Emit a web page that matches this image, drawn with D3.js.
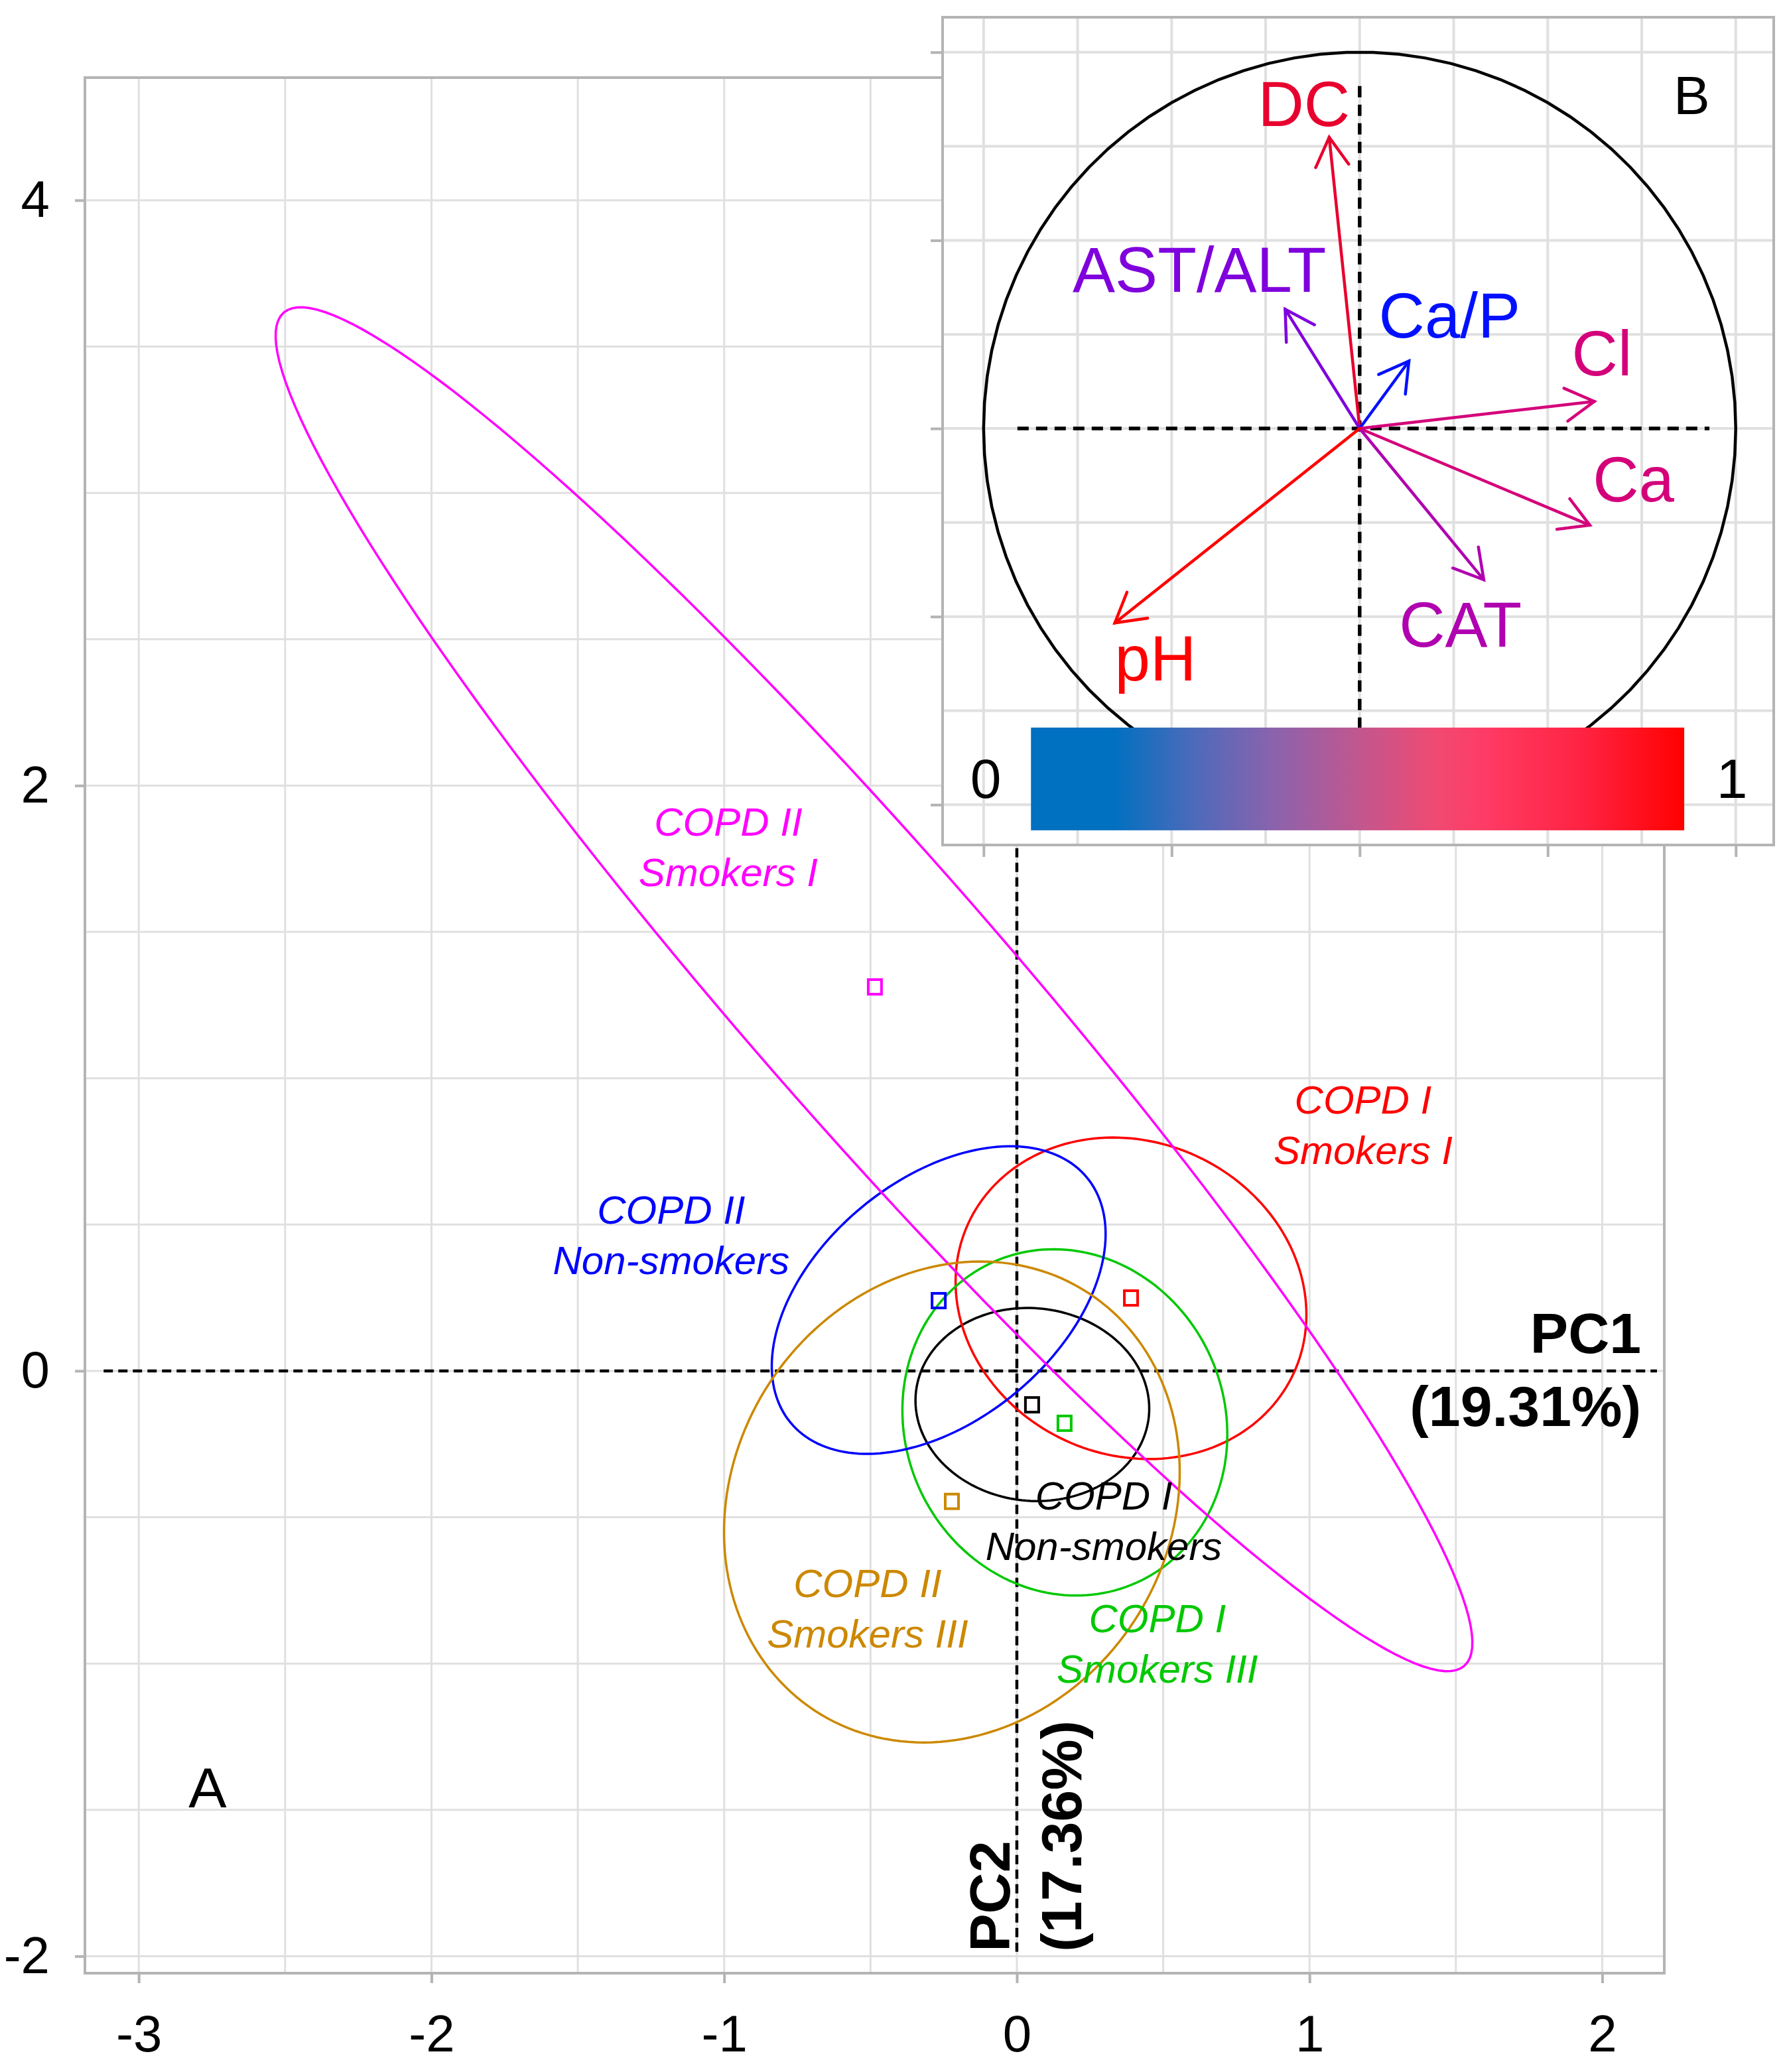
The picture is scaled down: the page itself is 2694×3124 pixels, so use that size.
<!DOCTYPE html>
<html><head><meta charset="utf-8">
<script src="https://cdn.jsdelivr.net/npm/d3@7"></script>
<style>body{margin:0;background:#fff}svg{display:block}text{font-family:"Liberation Sans",Arial,sans-serif}</style>
</head><body><svg id="c" width="2694" height="3124"></svg>
<script>
// ---------- DATA ----------
// Panel A: PCA scores (group means) and 95% confidence ellipses
const groupLine1 = ["COPD I", "COPD I", "COPD I", "COPD II", "COPD II", "COPD II"];
const groupLine2 = ["Non-smokers", "Smokers I", "Smokers III", "Non-smokers", "Smokers I", "Smokers III"];
const groupColors = ["#000000", "#ff0000", "#00c800", "#0000ff", "#ff00ff", "#cc8800"];
const meanPC1 = [0.052, 0.390, 0.163, -0.267, -0.485, -0.222];
const meanPC2 = [-0.116, 0.249, -0.179, 0.240, 1.312, -0.446];
const ellCx = [0.053, 0.390, 0.164, -0.267, -0.488, -0.222];
const ellCy = [-0.115, 0.248, -0.176, 0.242, 1.304, -0.448];
const ellA = [0.400, 0.612, 0.600, 0.657, 3.068, 0.853];
const ellB = [0.329, 0.535, 0.546, 0.412, 0.444, 0.744];
const ellAngle = [-6.1, -24.7, -66.3, 39.6, -48.9, 56.7];
// group label anchors (data units: centre x, first baseline y)
const labelX = [0.297, 1.183, 0.480, -1.181, -0.986, -0.510];
const labelY = [-0.474, 0.879, -0.893, 0.503, 1.829, -0.773];

const xTickVals = [-3, -2, -1, 0, 1, 2];
const yTickVals = [-2, 0, 2, 4];
const pc1Label = ["PC1", "(19.31%)"];
const pc2Label = ["PC2", "(17.36%)"];

// Panel B: variable loadings (correlation circle)
const varNames = ["DC", "AST/ALT", "Ca/P", "Cl", "Ca", "CAT", "pH"];
const loadPC1 = [-0.081, -0.198, 0.131, 0.624, 0.612, 0.330, -0.651];
const loadPC2 = [0.774, 0.317, 0.179, 0.072, -0.257, -0.402, -0.517];
const varColors = ["#e8002e", "#7f00dd", "#0010ff", "#d4007a", "#d4007a", "#b000b0", "#ff0000"];
const varLabelX = [-0.148, -0.426, 0.239, 0.644, 0.728, 0.268, -0.543];
const varLabelY = [0.804, 0.363, 0.241, 0.141, -0.194, -0.580, -0.670];
const colorbarStops = [0, 0.125, 0.25, 0.37, 0.5, 0.62, 0.7, 0.85, 1];
const colorbarColors = ["#0070c0", "#0070c0", "#4d6aba", "#8a63ad", "#c0578f", "#f04a72", "#ff3a64", "#ff2240", "#ff0000"];
const colorbarTicks = ["0", "1"];

// ---------- DRAW ----------
const svg = d3.select("#c");
svg.append("rect").attr("width", 2694).attr("height", 3124).attr("fill", "#fff");
const FONT = '"Liberation Sans", Arial, sans-serif';

// ===== Panel A =====
const x = d3.scaleLinear().domain([-3.184, 2.212]).range([128, 2509]);
const y = d3.scaleLinear().domain([-2.058, 4.419]).range([2975, 117]);
const A = svg.append("g");

const gridX = d3.range(-3, 2.001, 0.5);
const gridY = d3.range(-2, 4.001, 0.5);
A.selectAll(".gx").data(gridX).join("line")
  .attr("x1", d => x(d)).attr("x2", d => x(d)).attr("y1", y(-2.058)).attr("y2", y(4.419))
  .attr("stroke", "#e0e0e0").attr("stroke-width", 3);
A.selectAll(".gy").data(gridY).join("line")
  .attr("y1", d => y(d)).attr("y2", d => y(d)).attr("x1", x(-3.184)).attr("x2", x(2.212))
  .attr("stroke", "#e0e0e0").attr("stroke-width", 3);

// dashed zero lines
A.append("line").attr("x1", x(-3.12)).attr("x2", x(2.187)).attr("y1", y(0)).attr("y2", y(0))
  .attr("stroke", "#000").attr("stroke-width", 4.5).attr("stroke-dasharray", "14 8");
A.append("line").attr("x1", x(0)).attr("x2", x(0)).attr("y1", y(-1.985)).attr("y2", y(4.419))
  .attr("stroke", "#000").attr("stroke-width", 4.5).attr("stroke-dasharray", "14 8");

// ellipses
const ellLine = d3.line().curve(d3.curveLinearClosed);
const angles = d3.range(0, 360, 2).map(a => a * Math.PI / 180);
groupColors.forEach((col, i) => {
  const th = ellAngle[i] * Math.PI / 180;
  const pts = angles.map(t => {
    const px = ellA[i] * Math.cos(t), py = ellB[i] * Math.sin(t);
    const X = ellCx[i] + px * Math.cos(th) - py * Math.sin(th);
    const Y = ellCy[i] + px * Math.sin(th) + py * Math.cos(th);
    return [x(X), y(Y)];
  });
  A.append("path").attr("d", ellLine(pts)).attr("fill", "none")
    .attr("stroke", col).attr("stroke-width", 3.5);
});

// group means (open squares)
A.selectAll(".mean").data(groupColors).join("rect")
  .attr("x", (d, i) => x(meanPC1[i]) - 10).attr("y", (d, i) => y(meanPC2[i]) - 11)
  .attr("width", 20).attr("height", 22)
  .attr("fill", "none").attr("stroke", d => d).attr("stroke-width", 4);

// group labels
groupColors.forEach((col, i) => {
  const t = A.append("text").attr("font-size", 60).attr("font-style", "italic")
    .attr("fill", col).attr("text-anchor", "middle");
  t.append("tspan").attr("x", x(labelX[i])).attr("y", y(labelY[i])).text(groupLine1[i]);
  t.append("tspan").attr("x", x(labelX[i])).attr("y", y(labelY[i]) + 76).text(groupLine2[i]);
});

// frame
A.append("rect").attr("x", 128).attr("y", 117).attr("width", 2381).attr("height", 2858)
  .attr("fill", "none").attr("stroke", "#b4b4b4").attr("stroke-width", 4);

// axes
const xAxis = A.append("g").attr("transform", `translate(0,${y(-2.058)})`)
  .call(d3.axisBottom(x).tickValues(xTickVals).tickSize(15).tickPadding(48).tickFormat(d3.format("d")));
const yAxis = A.append("g").attr("transform", `translate(${x(-3.184)},0)`)
  .call(d3.axisLeft(y).tickValues(yTickVals).tickSize(15).tickPadding(38).tickFormat(d3.format("d")));
[xAxis, yAxis].forEach(g => {
  g.select(".domain").remove();
  g.selectAll(".tick line").attr("stroke", "#b4b4b4").attr("stroke-width", 4);
  g.selectAll(".tick text").attr("font-size", 78).attr("font-family", FONT).attr("fill", "#000");
});
xAxis.selectAll(".tick text").text(d => d < 0 ? "-" + Math.abs(d) : d);
yAxis.selectAll(".tick text").text(d => d < 0 ? "-" + Math.abs(d) : d);

// axis names
const pc1 = A.append("text").attr("font-size", 86).attr("font-weight", "bold").attr("text-anchor", "end");
pc1.append("tspan").attr("x", x(2.133)).attr("y", y(0) - 27).text(pc1Label[0]);
pc1.append("tspan").attr("x", x(2.133)).attr("y", y(0) + 83).text(pc1Label[1]);
const pc2 = A.append("text").attr("font-size", 86).attr("font-weight", "bold")
  .attr("transform", `translate(${x(0)},${y(-1.985)}) rotate(-90)`);
pc2.append("tspan").attr("x", 0).attr("y", -11).text(pc2Label[0]);
pc2.append("tspan").attr("x", 0).attr("y", 97).text(pc2Label[1]);

A.append("text").attr("x", x(-2.765)).attr("y", y(-1.491)).attr("font-size", 86)
  .attr("text-anchor", "middle").text("A");

// ===== Panel B (inset) =====
const ix = d3.scaleLinear().domain([-1.109, 1.101]).range([1421, 2674]);
const iy = d3.scaleLinear().domain([-1.107, 1.093]).range([1274, 26]);
const B = svg.append("g");
B.append("rect").attr("x", 1421).attr("y", 26).attr("width", 1253).attr("height", 1248).attr("fill", "#fff");
const igrid = d3.range(-1, 1.001, 0.25);
B.selectAll(".igx").data(igrid).join("line")
  .attr("x1", d => ix(d)).attr("x2", d => ix(d)).attr("y1", 26).attr("y2", 1274)
  .attr("stroke", "#e0e0e0").attr("stroke-width", 4);
B.selectAll(".igy").data(igrid).join("line")
  .attr("y1", d => iy(d)).attr("y2", d => iy(d)).attr("x1", 1421).attr("x2", 2674)
  .attr("stroke", "#e0e0e0").attr("stroke-width", 4);
B.append("rect").attr("x", 1421).attr("y", 26).attr("width", 1253).attr("height", 1248)
  .attr("fill", "none").attr("stroke", "#b4b4b4").attr("stroke-width", 4);
const itick = [-1, -0.5, 0, 0.5, 1];
const ibx = B.append("g").attr("transform", "translate(0,1274)").call(d3.axisBottom(ix).tickValues(itick).tickSize(18).tickFormat(""));
const ily = B.append("g").attr("transform", "translate(1421,0)").call(d3.axisLeft(iy).tickValues(itick).tickSize(18).tickFormat(""));
[ibx, ily].forEach(g => {
  g.select(".domain").remove();
  g.selectAll(".tick line").attr("stroke", "#b4b4b4").attr("stroke-width", 4);
});

// dashed axes
B.append("line").attr("x1", ix(-0.91)).attr("x2", ix(0.93)).attr("y1", iy(0)).attr("y2", iy(0))
  .attr("stroke", "#000").attr("stroke-width", 5.5).attr("stroke-dasharray", "17 11");
B.append("line").attr("x1", ix(0)).attr("x2", ix(0)).attr("y1", iy(0.91)).attr("y2", iy(-0.91))
  .attr("stroke", "#000").attr("stroke-width", 5.5).attr("stroke-dasharray", "17 11");

// correlation circle
const circ = d3.range(0, 360, 4).map(a => [ix(Math.cos(a * Math.PI / 180)), iy(Math.sin(a * Math.PI / 180))]);
B.append("path").attr("d", ellLine(circ)).attr("fill", "none").attr("stroke", "#000").attr("stroke-width", 4.5);

// arrows
varNames.forEach((nm, i) => {
  const x0 = ix(0), y0 = iy(0), x1 = ix(loadPC1[i]), y1 = iy(loadPC2[i]);
  const ang = Math.atan2(y1 - y0, x1 - x0);
  const L = 50, h = 30 * Math.PI / 180;
  const g = B.append("g").attr("stroke", varColors[i]).attr("stroke-width", 4.5).attr("fill", "none")
    .attr("stroke-linecap", "round");
  g.append("line").attr("x1", x0).attr("y1", y0).attr("x2", x1).attr("y2", y1);
  g.append("path").attr("d",
    `M${x1 - L * Math.cos(ang - h)},${y1 - L * Math.sin(ang - h)}L${x1},${y1}L${x1 - L * Math.cos(ang + h)},${y1 - L * Math.sin(ang + h)}`);
  B.append("text").attr("x", ix(varLabelX[i])).attr("y", iy(varLabelY[i]))
    .attr("font-size", 96).attr("text-anchor", "middle").attr("fill", varColors[i]).text(nm);
});

// colour bar
const defs = svg.append("defs");
const grad = defs.append("linearGradient").attr("id", "cb").attr("x1", "0%").attr("x2", "100%").attr("y1", "0%").attr("y2", "0%");
grad.selectAll("stop").data(colorbarStops).join("stop")
  .attr("offset", d => d * 100 + "%").attr("stop-color", (d, i) => colorbarColors[i]);
B.append("rect").attr("x", ix(-0.874)).attr("y", iy(-0.795))
  .attr("width", ix(0.863) - ix(-0.874)).attr("height", iy(-1.068) - iy(-0.795))
  .attr("fill", "url(#cb)");
B.append("text").attr("x", ix(-0.994)).attr("y", iy(-0.982)).attr("font-size", 84)
  .attr("text-anchor", "middle").text(colorbarTicks[0]);
B.append("text").attr("x", ix(0.990)).attr("y", iy(-0.982)).attr("font-size", 84)
  .attr("text-anchor", "middle").text(colorbarTicks[1]);
B.append("text").attr("x", ix(0.883)).attr("y", iy(0.836)).attr("font-size", 82)
  .attr("text-anchor", "middle").text("B");
</script></body></html>
